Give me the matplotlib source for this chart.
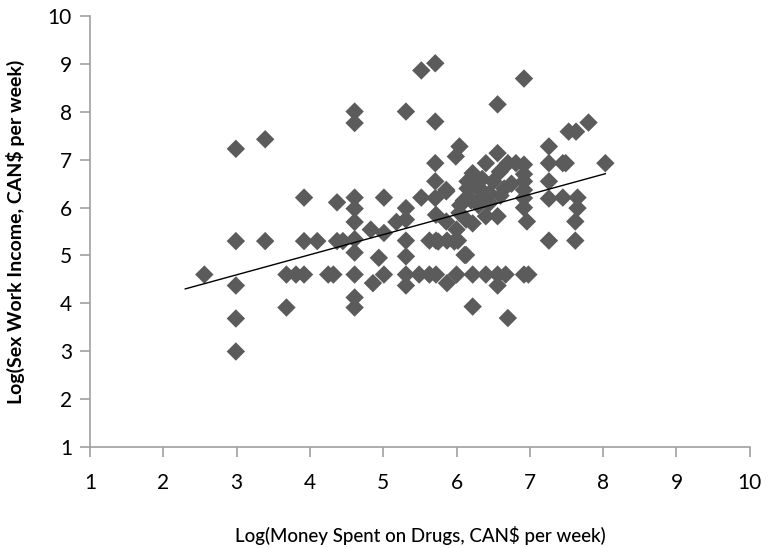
import numpy as np
import matplotlib.pyplot as plt

plt.rcParams['font.family'] = ['Lato', 'DejaVu Sans']

# log(money spent on drugs), log(sex work income)
drugs = [2.56,
         2.99, 2.99, 2.99, 2.99, 2.99,
         3.39, 3.39,
         3.68, 3.68, 3.81, 3.92, 3.92, 3.92,
         4.10, 4.25, 4.32, 4.37, 4.37, 4.45,
         4.61, 4.61, 4.61, 4.61, 4.61, 4.61, 4.61, 4.61, 4.61, 4.61,
         4.83, 4.86, 4.94, 5.01, 5.01, 5.01,
         5.18, 5.31, 5.31, 5.31, 5.31, 5.31, 5.31, 5.31,
         5.52, 5.71, 5.71, 5.49, 5.63, 5.72, 5.87, 6.00, 6.22, 6.40, 6.56, 6.67, 6.56, 6.92, 6.98,
         6.70, 6.22,
         6.92, 6.56, 7.80, 7.53, 7.63,
         7.26, 7.26, 7.45, 7.49, 8.03,
         7.26, 7.26, 7.45, 7.65, 7.65, 7.62, 7.62, 7.26,
         6.96, 6.92, 6.92, 6.92, 6.92, 6.92, 6.92,
         5.63, 5.72, 5.87, 6.02, 6.13, 6.00, 5.72, 5.86, 5.86,
         5.71, 5.71, 5.71, 5.52,
         6.56, 6.04, 5.99,
         6.40, 6.70, 6.81, 6.22, 6.59, 5.86,
         6.10, 6.20, 6.30, 6.15, 6.25, 6.35, 6.45, 6.05, 6.50, 6.60,
         6.04, 6.13, 6.22, 6.40, 6.56, 5.75, 5.97, 6.11,
         6.30, 6.45, 6.65, 6.75, 6.15, 6.35]
income = [4.60,
          7.23, 5.30, 4.37, 3.68, 2.99,
          7.43, 5.30,
          4.60, 3.91, 4.60, 4.60, 6.21, 5.30,
          5.30, 4.60, 4.60, 6.11, 5.30, 5.30,
          8.01, 7.77, 6.21, 5.98, 5.70, 5.34, 5.06, 4.60, 4.12, 3.91,
          5.54, 4.42, 4.95, 6.21, 5.47, 4.60,
          5.70, 5.75, 5.99, 5.31, 4.98, 4.60, 4.37, 8.01,
          8.87, 9.02, 7.80, 4.60, 4.60, 4.60, 4.42, 4.60, 4.60, 4.60, 4.60, 4.60, 4.37, 4.60, 4.60,
          3.69, 3.93,
          8.70, 8.16, 7.78, 7.59, 7.59,
          7.28, 6.93, 6.93, 6.93, 6.93,
          6.55, 6.19, 6.21, 6.21, 5.99, 5.71, 5.31, 5.31,
          5.71, 6.00, 6.20, 6.37, 6.55, 6.70, 6.90,
          5.31, 5.31, 5.31, 5.31, 5.01, 5.54, 5.85, 5.71, 6.34,
          6.93, 6.55, 6.20, 6.21,
          7.14, 7.28, 7.07,
          6.93, 6.93, 6.93, 6.72, 6.75, 6.37,
          6.15, 6.15, 6.15, 6.40, 6.45, 6.35, 6.30, 6.05, 6.55, 6.25,
          5.89, 5.75, 5.67, 5.82, 5.82, 5.29, 5.29, 5.01,
          6.05, 6.10, 6.40, 6.50, 6.55, 6.60]

# fitted trend line end points
trend_x = [2.30, 8.03]
trend_y = [4.30, 6.71]

fig = plt.figure(figsize=(7.69, 5.48), dpi=100)
ax = fig.add_axes([0.117, 0.185, 0.858, 0.785])

ax.scatter(drugs, income, marker='D', s=88, color='#5b5b5b', edgecolors='none', zorder=3)
ax.plot(trend_x, trend_y, color='black', lw=1.0, zorder=4)

ax.set_xlim(1, 10)
ax.set_ylim(1, 10)
ax.set_xticks(range(1, 11))
ax.set_yticks(range(1, 11))

for s in ['top', 'right']:
    ax.spines[s].set_visible(False)
for s in ['left', 'bottom']:
    ax.spines[s].set_color('#a0a0a0')
    ax.spines[s].set_linewidth(1.2)
ax.tick_params(colors='#a0a0a0', length=7, width=1.2, labelcolor='black', labelsize=15)
ax.tick_params(axis='x', pad=12)
ax.tick_params(axis='y', pad=6)

ax.set_xlabel('Log(Money Spent on Drugs, CAN$ per week)', fontsize=13.5,
              fontweight='medium', labelpad=24)
ax.set_ylabel('Log(Sex Work Income, CAN$ per week)', fontsize=14,
              fontweight='bold', labelpad=16)

fig.savefig('out.png', dpi=100)
